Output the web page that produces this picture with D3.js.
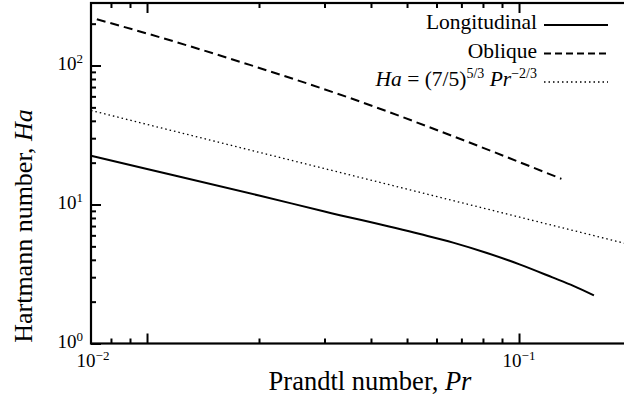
<!DOCTYPE html>
<html>
<head>
<meta charset="utf-8">
<script src="https://cdn.jsdelivr.net/npm/d3@7"></script>
<style>
  body { margin: 0; background: #fff; }
</style>
</head>
<body>
<div id="chart"></div>
<script>
const WIDTH = 624;
const HEIGHT = 412;
const FONT = '"Liberation Serif"';

// Longitudinal (solid)
const longPr = [0.00707, 0.01, 0.02, 0.03, 0.0542, 0.0665, 0.082, 0.1003, 0.123, 0.140, 0.159];
const longHa = [22.4, 18.0, 11.6, 8.92, 6.13, 5.32, 4.48, 3.71, 2.99, 2.60, 2.22];

// Oblique (dashed)
const oblPr = [0.00733, 0.0100, 0.0189, 0.0351, 0.0707, 0.130];
const oblHa = [215, 170, 101, 58.4, 29.1, 15.3];

// Ha = (7/5)^(5/3) Pr^(-2/3) (dotted, straight in log-log)
const fitPr = [0.00707, 0.3];
const fitHa = [47.5, 3.91];

const xDomain = [0.00707, 0.3];
const yDomain = [1, 281.7];

const xMajor = [0.01, 0.1];
const xMinor = [0.008, 0.009, 0.02, 0.03, 0.04, 0.05, 0.06, 0.07, 0.08, 0.09, 0.2];
const yMajor = [1, 10, 100];
const yMinor = [2, 3, 4, 5, 6, 7, 8, 9, 20, 30, 40, 50, 60, 70, 80, 90, 200];

const xLabels = [{ at: 0.00716, exp: '\u22122' }, { at: 0.1, exp: '\u22121' }];
const yLabels = [{ at: 1, exp: '0' }, { at: 10, exp: '1' }, { at: 100, exp: '2' }];

const legendItems = [
  { name: 'Longitudinal', dash: null },
  { name: 'Oblique', dash: '7,4' },
  { name: 'fit', dash: '1.5,3' }
];

const LEFT = 91;
const BOTTOM = 343.5;
const TOP = 3;
const DECADE_X = 372;

const svg = d3.select('#chart').append('svg')
  .attr('width', WIDTH)
  .attr('height', HEIGHT);

const xScale = d3.scaleLog()
  .domain(xDomain)
  .range([LEFT, LEFT + DECADE_X * Math.log10(xDomain[1] / xDomain[0])]);

const yScale = d3.scaleLog()
  .domain(yDomain)
  .range([BOTTOM, TOP]);

const RIGHT = xScale.range()[1];

// curves
const line = d3.line()
  .x(d => xScale(d[0]))
  .y(d => yScale(d[1]))
  .curve(d3.curveMonotoneX);

const curves = svg.append('g').attr('id', 'curves');

curves.append('path')
  .attr('d', line(d3.zip(fitPr, fitHa)))
  .attr('fill', 'none').attr('stroke', '#000')
  .attr('stroke-width', 1.3).attr('stroke-dasharray', '1.5,3');

curves.append('path')
  .attr('d', line(d3.zip(oblPr, oblHa)))
  .attr('fill', 'none').attr('stroke', '#000')
  .attr('stroke-width', 2).attr('stroke-dasharray', '9,5');

curves.append('path')
  .attr('d', line(d3.zip(longPr, longHa)))
  .attr('fill', 'none').attr('stroke', '#000')
  .attr('stroke-width', 2);

// axes: inward ticks on all four sides
const axes = svg.append('g').attr('id', 'axes');

const addAxis = (axisFn, scale, values, size, transform) => {
  const g = axes.append('g')
    .attr('transform', transform)
    .call(axisFn(scale).tickValues(values).tickSize(size).tickFormat(''));
  g.select('.domain').remove();
  g.selectAll('line').attr('stroke', '#000').attr('stroke-width', 2);
};

addAxis(d3.axisBottom, xScale, xMajor, -10, `translate(0,${BOTTOM})`);
addAxis(d3.axisBottom, xScale, xMinor, -5, `translate(0,${BOTTOM})`);
addAxis(d3.axisTop, xScale, xMajor, -10, `translate(0,${TOP})`);
addAxis(d3.axisTop, xScale, xMinor, -5, `translate(0,${TOP})`);
addAxis(d3.axisLeft, yScale, yMajor, -10, `translate(${LEFT},0)`);
addAxis(d3.axisLeft, yScale, yMinor, -5, `translate(${LEFT},0)`);
addAxis(d3.axisRight, yScale, yMajor, -10, `translate(${RIGHT},0)`);
addAxis(d3.axisRight, yScale, yMinor, -5, `translate(${RIGHT},0)`);

axes.append('rect')
  .attr('x', LEFT).attr('y', TOP)
  .attr('width', RIGHT - LEFT).attr('height', BOTTOM - TOP)
  .attr('fill', 'none').attr('stroke', '#000').attr('stroke-width', 2.2);

// tick labels
const labels = svg.append('g').attr('id', 'labels');

const powerLabel = function (d) {
  const t = d3.select(this);
  t.append('tspan').text('10');
  t.append('tspan').attr('dy', -7).style('font-size', '13px').text(d.exp);
};

labels.selectAll('text.ylab')
  .data(yLabels)
  .enter()
  .append('text')
  .attr('class', 'ylab')
  .attr('x', LEFT - 8)
  .attr('y', d => yScale(d.at) + 4)
  .attr('text-anchor', 'end')
  .style('font-family', FONT)
  .style('font-size', '19px')
  .each(powerLabel);

labels.selectAll('text.xlab')
  .data(xLabels)
  .enter()
  .append('text')
  .attr('class', 'xlab')
  .attr('x', d => xScale(d.at))
  .attr('y', BOTTOM + 23)
  .attr('text-anchor', 'middle')
  .style('font-family', FONT)
  .style('font-size', '19px')
  .each(powerLabel);

// axis titles
const xTitle = svg.append('text')
  .attr('x', 370).attr('y', 390)
  .attr('text-anchor', 'middle')
  .style('font-family', FONT)
  .style('font-size', '26.5px');
xTitle.append('tspan').text('Prandtl number, ');
xTitle.append('tspan').style('font-style', 'italic').text('Pr');

const yTitle = svg.append('text')
  .attr('transform', 'translate(32,226) rotate(-90)')
  .attr('text-anchor', 'middle')
  .style('font-family', FONT)
  .style('font-size', '26px');
yTitle.append('tspan').text('Hartmann number, ');
yTitle.append('tspan').style('font-style', 'italic').text('Ha');

// legend
const legend = svg.append('g').attr('id', 'legend');
const LEG_TEXT_X = 537;
const LEG_LINE = [544, 608];
const LEG_Y0 = 25;
const LEG_DY = 28.5;

legendItems.forEach((item, i) => {
  const y = LEG_Y0 + i * LEG_DY;
  legend.append('line')
    .attr('x1', LEG_LINE[0]).attr('x2', LEG_LINE[1])
    .attr('y1', y).attr('y2', y)
    .attr('stroke', '#000')
    .attr('stroke-width', item.dash === '1.5,3' ? 1.3 : 2)
    .attr('stroke-dasharray', item.dash);

  const t = legend.append('text')
    .attr('x', LEG_TEXT_X).attr('y', y + 4)
    .attr('text-anchor', 'end')
    .style('font-family', FONT)
    .style('font-size', '21.5px');

  if (item.name === 'fit') {
    t.append('tspan').style('font-style', 'italic').text('Ha');
    t.append('tspan').text(' = (7/5)');
    t.append('tspan').attr('dy', -8).style('font-size', '14px').text('5/3');
    t.append('tspan').attr('dy', 8).text(' ');
    t.append('tspan').style('font-style', 'italic').text('Pr');
    t.append('tspan').attr('dy', -8).style('font-size', '14px').text('\u22122/3');
  } else {
    t.text(item.name);
  }
});
</script>
</body>
</html>
